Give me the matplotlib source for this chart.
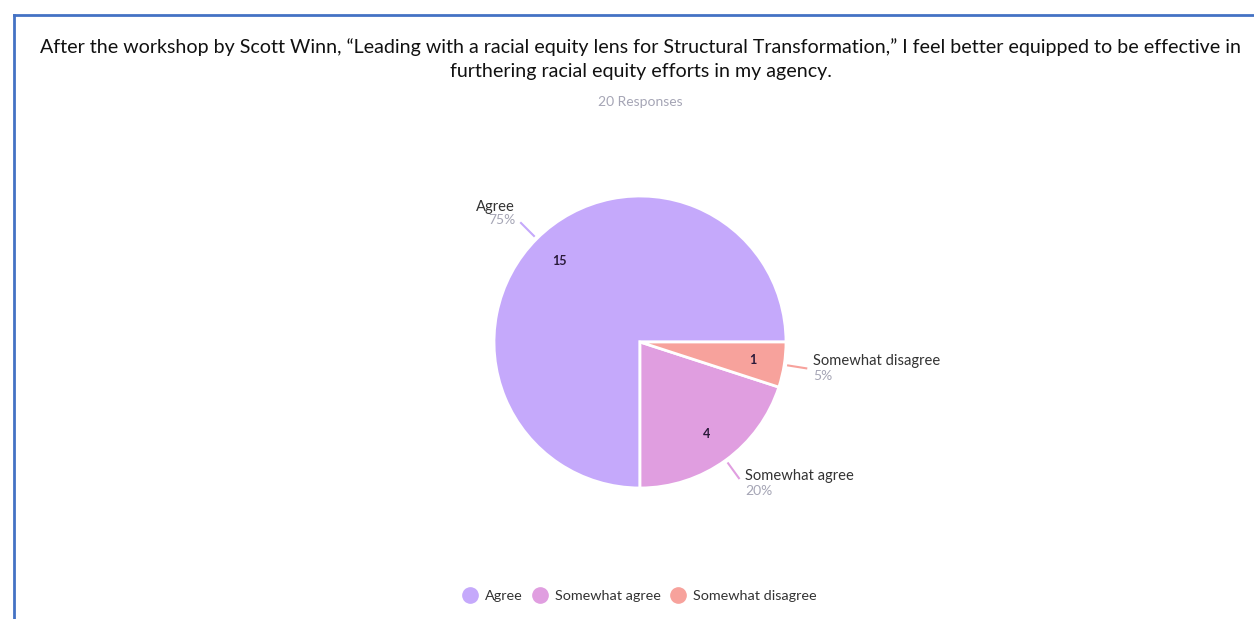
import matplotlib.pyplot as plt
import numpy as np
from matplotlib.lines import Line2D

# survey data
categories = ['Agree', 'Somewhat agree', 'Somewhat disagree']
counts = [15, 4, 1]
colors = ['#C5A9FB', '#E09EE0', '#F7A29C']
title = ('After the workshop by Scott Winn, \u201cLeading with a racial equity lens for Structural Transformation,\u201d '
         'I feel better equipped to be effective in\nfurthering racial equity efforts in my agency.')
subtitle = '20 Responses'

plt.rcParams['font.family'] = ['Lato', 'DejaVu Sans']

W, H = 1254, 619
fig = plt.figure(figsize=(W / 100, H / 100), dpi=100)

# blue frame
fig.add_artist(Line2D([14 / W, 14 / W], [0, 1 - 15 / H], color='#4472C4', lw=2))
fig.add_artist(Line2D([14 / W, 1], [1 - 15 / H, 1 - 15 / H], color='#4472C4', lw=2))

fig.text(641 / W, 1 - 59 / H, title, ha='center', va='center', fontsize=14.1,
         color='#111111', linespacing=1.55)
fig.text(640 / W, 1 - 102 / H, subtitle, ha='center', va='center', fontsize=10, color='#A5A5B5')

cx, cy, r = 640, 342, 146
ax = fig.add_axes([(cx - r) / W, (H - cy - r) / H, 2 * r / W, 2 * r / H])
total = sum(counts)
wedges, _ = ax.pie(counts, colors=colors, startangle=0, counterclock=True,
                   wedgeprops=dict(edgecolor='white', linewidth=2))
ax.set_xlim(-1, 1)
ax.set_ylim(-1, 1)
ax.set_aspect('equal')
ax.axis('off')

for w, name, c, col in zip(wedges, categories, counts, colors):
    ang = np.deg2rad((w.theta1 + w.theta2) / 2)
    ca, sa = np.cos(ang), np.sin(ang)
    ax.text(0.78 * ca, 0.78 * sa, str(c), ha='center', va='center', fontsize=9,
            fontweight='bold', color='#2a1a3a')
    ax.plot([1.02 * ca, 1.16 * ca], [1.02 * sa, 1.16 * sa], color=col, lw=1.5,
            solid_capstyle='butt', clip_on=False)
    pct = f'{round(100 * c / total)}%'
    x0, y0 = 1.16 * ca, 1.16 * sa
    if ca < 0:
        ax.text(x0 - 0.035, y0 + 0.102, name, ha='right', va='center', fontsize=10.6, color='#333333')
        ax.text(x0 - 0.035, y0 + 0.012, pct, ha='right', va='center', fontsize=10, color='#A5A5B5')
    else:
        dy = 0.062 + 0.05 * sa
        ax.text(x0 + 0.04, y0 + dy, name, ha='left', va='center', fontsize=10.6, color='#333333')
        ax.text(x0 + 0.04, y0 + dy - 0.105, pct, ha='left', va='center', fontsize=10, color='#A5A5B5')

handles = [Line2D([], [], marker='o', ls='', markersize=11, markerfacecolor=col,
                  markeredgecolor=col) for col in colors]
fig.legend(handles, categories, loc='center', bbox_to_anchor=(636 / W, 1 - 596 / H), ncol=3,
           frameon=False, fontsize=10.4, handletextpad=0.05, columnspacing=0.2,
           labelcolor='#333333')

fig.savefig('out.png', dpi=100)
